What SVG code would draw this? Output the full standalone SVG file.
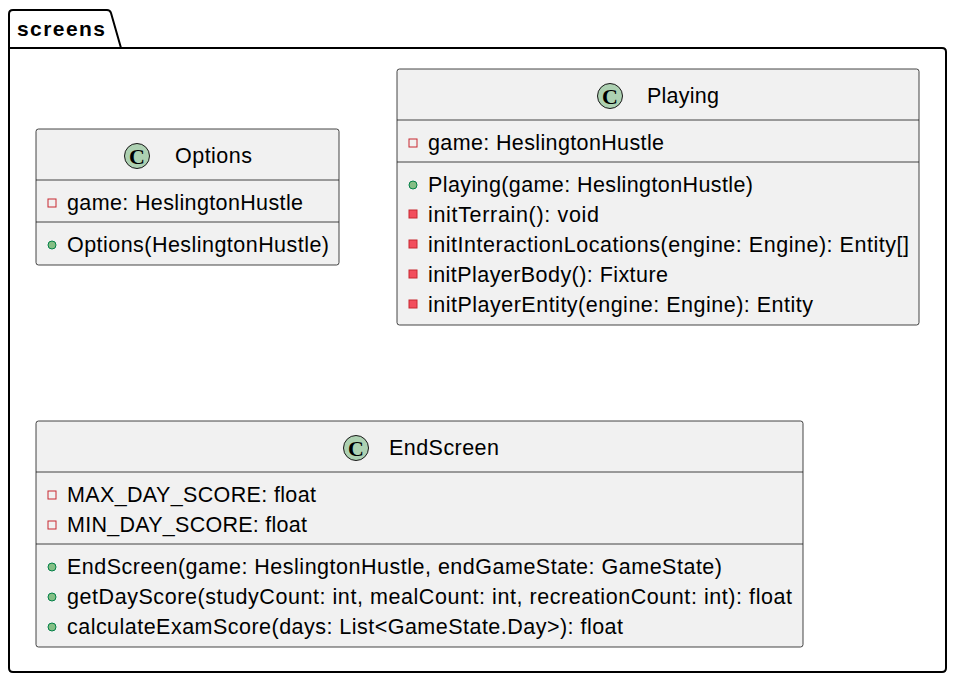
<svg xmlns="http://www.w3.org/2000/svg" width="955" height="681" viewBox="0 0 955 681">
<style>
.pkg{fill:none;stroke:#000;stroke-width:2}
.cls{fill:#F1F1F1;stroke:#181818;stroke-width:0.8}
.sep{stroke:#181818;stroke-width:0.8}
.t{font-family:"Liberation Sans",Arial,sans-serif;font-size:21.5px;fill:#000}
.pk{font-family:"Liberation Sans",Arial,sans-serif;font-size:21px;font-weight:bold;fill:#000}
.ci{fill:#ADD1B2;stroke:#181818;stroke-width:1}
.cc{font-family:"Liberation Serif","Times New Roman",serif;font-size:22px;font-weight:bold;fill:#000}
.pf{fill:none;stroke:#C82930;stroke-width:1}
.pm{fill:#F24D5C;stroke:#C82930;stroke-width:1}
.um{fill:#84BE84;stroke:#038048;stroke-width:1}
</style>
<rect width="955" height="681" fill="#FFFFFF"/>
<g id="screens">
<path class="pkg" d="M9,48 L9,14 Q9,10 13,10 L107,10 Q110,10 111,13 L121,48 Z"/>
<path class="pkg" d="M9,48 L942,48 Q946,48 946,52 L946,668 Q946,672 942,672 L13,672 Q9,672 9,668 Z"/>
<text class="pk" x="17" y="36" textLength="88" lengthAdjust="spacing">screens</text>
</g>
<g id="Options">
<rect class="cls" x="36" y="129" width="303" height="136" rx="2.5"/>
<circle class="ci" cx="137" cy="156" r="12.5"/>
<text class="cc" x="137" y="163.5" text-anchor="middle">C</text>
<text class="t" x="175" y="163" textLength="77" lengthAdjust="spacing">Options</text>
<line class="sep" x1="36" y1="180" x2="339" y2="180"/>
<rect class="pf" x="48" y="199" width="8" height="8"/>
<text class="t" x="67" y="210" textLength="236" lengthAdjust="spacing">game: HeslingtonHustle</text>
<line class="sep" x1="36" y1="222" x2="339" y2="222"/>
<circle class="um" cx="52" cy="245" r="4"/>
<text class="t" x="67" y="252" textLength="262" lengthAdjust="spacing">Options(HeslingtonHustle)</text>
</g>
<g id="Playing">
<rect class="cls" x="397" y="69" width="522" height="256" rx="2.5"/>
<circle class="ci" cx="610" cy="96" r="12.5"/>
<text class="cc" x="610" y="103.5" text-anchor="middle">C</text>
<text class="t" x="647" y="103" textLength="72" lengthAdjust="spacing">Playing</text>
<line class="sep" x1="397" y1="120" x2="919" y2="120"/>
<rect class="pf" x="409" y="139" width="8" height="8"/>
<text class="t" x="428" y="150" textLength="236" lengthAdjust="spacing">game: HeslingtonHustle</text>
<line class="sep" x1="397" y1="162" x2="919" y2="162"/>
<circle class="um" cx="413" cy="185" r="4"/>
<text class="t" x="428" y="192" textLength="325" lengthAdjust="spacing">Playing(game: HeslingtonHustle)</text>
<rect class="pm" x="409" y="210" width="8" height="8"/>
<text class="t" x="428" y="222" textLength="171" lengthAdjust="spacing">initTerrain(): void</text>
<rect class="pm" x="409" y="240" width="8" height="8"/>
<text class="t" x="428" y="252" textLength="481" lengthAdjust="spacing">initInteractionLocations(engine: Engine): Entity[]</text>
<rect class="pm" x="409" y="270" width="8" height="8"/>
<text class="t" x="428" y="282" textLength="240" lengthAdjust="spacing">initPlayerBody(): Fixture</text>
<rect class="pm" x="409" y="300" width="8" height="8"/>
<text class="t" x="428" y="312" textLength="385" lengthAdjust="spacing">initPlayerEntity(engine: Engine): Entity</text>
</g>
<g id="EndScreen">
<rect class="cls" x="36" y="421" width="767" height="226" rx="2.5"/>
<circle class="ci" cx="356" cy="448" r="12.5"/>
<text class="cc" x="356" y="455.5" text-anchor="middle">C</text>
<text class="t" x="389" y="455" textLength="110" lengthAdjust="spacing">EndScreen</text>
<line class="sep" x1="36" y1="472" x2="803" y2="472"/>
<rect class="pf" x="48" y="491" width="8" height="8"/>
<text class="t" x="67" y="502" textLength="249" lengthAdjust="spacing">MAX_DAY_SCORE: float</text>
<rect class="pf" x="48" y="521" width="8" height="8"/>
<text class="t" x="67" y="532" textLength="240" lengthAdjust="spacing">MIN_DAY_SCORE: float</text>
<line class="sep" x1="36" y1="544" x2="803" y2="544"/>
<circle class="um" cx="52" cy="567" r="4"/>
<text class="t" x="67" y="574" textLength="655" lengthAdjust="spacing">EndScreen(game: HeslingtonHustle, endGameState: GameState)</text>
<circle class="um" cx="52" cy="597" r="4"/>
<text class="t" x="67" y="604" textLength="725" lengthAdjust="spacing">getDayScore(studyCount: int, mealCount: int, recreationCount: int): float</text>
<circle class="um" cx="52" cy="627" r="4"/>
<text class="t" x="67" y="634" textLength="556" lengthAdjust="spacing">calculateExamScore(days: List&lt;GameState.Day&gt;): float</text>
</g>
<g id="connectors"></g>
</svg>
